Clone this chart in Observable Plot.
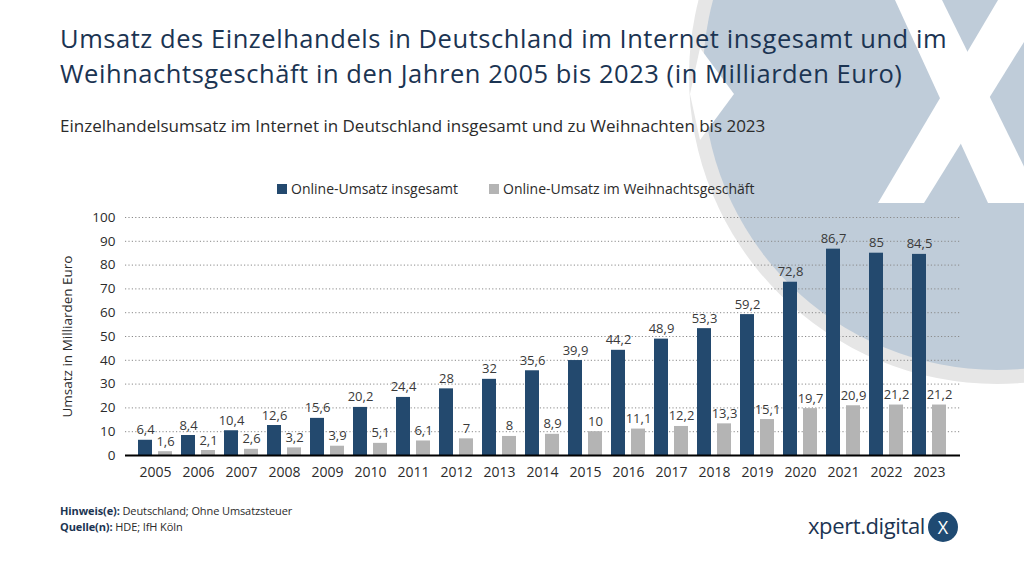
<!DOCTYPE html>
<html>
<head>
<meta charset="utf-8">
<script src="https://cdn.jsdelivr.net/npm/d3@7"></script>
<script src="https://cdn.jsdelivr.net/npm/@observablehq/plot@0.6"></script>
<style>
  html, body { margin: 0; padding: 0; background: #fff; }
  body { width: 1024px; height: 576px; position: relative; overflow: hidden; font-family: "Open Sans", "Noto Sans", sans-serif; }
  #bg { position: absolute; left: 0; top: 0; }
  .abs { position: absolute; white-space: nowrap; }
  .title { left: 60px; font-size: 25.5px; line-height: 35px; height: 35px; letter-spacing: 0.55px; color: #1b3452; }
  #subtitle { left: 60px; top: 114px; font-size: 17px; color: #2b2b2b; }
  .leg { top: 179px; font-size: 14px; color: #2b2b2b; }
  .sw { position: absolute; width: 10px; height: 10px; top: 184px; }
  #chart { position: absolute; left: 0; top: 195px; }
  .foot { left: 60px; font-size: 11px; line-height: 16px; height: 16px; color: #2b2b2b; letter-spacing: -0.1px; }
  .foot b { color: #1b3452; }
  #logo { left: 808px; top: 510px; font-size: 22px; color: #1b3452; letter-spacing: -0.4px; }
</style>
</head>
<body>
<svg id="bg" width="1024" height="576">
  <circle cx="997" cy="76" r="308" fill="#e6e6e6"/>
  <circle cx="997" cy="76" r="294" fill="#bfccd9"/>
  <polygon points="700,48 734,94 700,140 690,94" fill="#ffffff"/>
  <polygon points="895,0 942,0 1042,203 988,203" fill="#ffffff"/>
  <polygon points="998,0 1050,0 924,203 878,203" fill="#ffffff"/>
  <circle cx="943" cy="527" r="15" fill="#1f4a72"/>
  <text x="943" y="534" text-anchor="middle" font-family="Open Sans" font-size="18" fill="#fff">X</text>
</svg>
<div class="abs title" style="top:21px">Umsatz des Einzelhandels in Deutschland im Internet insgesamt und im</div>
<div class="abs title" style="top:56px">Weihnachtsgeschäft in den Jahren 2005 bis 2023 (in Milliarden Euro)</div>
<div id="subtitle" class="abs">Einzelhandelsumsatz im Internet in Deutschland insgesamt und zu Weihnachten bis 2023</div>
<div class="sw" style="left:277px;background:#23496e"></div>
<div class="abs leg" style="left:291px">Online-Umsatz insgesamt</div>
<div class="sw" style="left:489px;background:#b4b4b4"></div>
<div class="abs leg" style="left:503px">Online-Umsatz im Weihnachtsgeschäft</div>
<div id="chart"></div>
<div class="abs foot" style="top:503px"><b>Hinweis(e):</b> Deutschland; Ohne Umsatzsteuer</div>
<div class="abs foot" style="top:519px"><b>Quelle(n):</b> HDE; IfH Köln</div>
<div id="logo" class="abs">xpert.digital</div>
<script>
const years = [2005,2006,2007,2008,2009,2010,2011,2012,2013,2014,2015,2016,2017,2018,2019,2020,2021,2022,2023];
const totalSales = [6.4,8.4,10.4,12.6,15.6,20.2,24.4,28,32,35.6,39.9,44.2,48.9,53.3,59.2,72.8,86.7,85,84.5];
const christmasSales = [1.6,2.1,2.6,3.2,3.9,5.1,6.1,7,8,8.9,10,11.1,12.2,13.3,15.1,19.7,20.9,21.2,21.2];
const yTicks = [0,10,20,30,40,50,60,70,80,90,100];
const seriesNames = ["Online-Umsatz insgesamt", "Online-Umsatz im Weihnachtsgeschäft"];
const seriesColors = ["#23496e", "#b4b4b4"];

const totalData = years.map((y, i) => ({year: y, value: totalSales[i]}));
const xmasData = years.map((y, i) => ({year: y, value: christmasSales[i]}));
const fmt = v => String(v).replace(".", ",");

const chart = Plot.plot({
  width: 1024,
  height: 295,
  marginLeft: 125,
  marginRight: 64,
  marginTop: 22,
  marginBottom: 35,
  style: {fontFamily: "Open Sans, Noto Sans, sans-serif", background: "transparent", overflow: "visible"},
  x: {type: "band", domain: years, paddingInner: 0.2, paddingOuter: 0.1, label: null},
  y: {domain: [0, 100], label: null},
  marks: [
    Plot.gridY(yTicks.filter(d => d > 0), {stroke: "#8a8a8a", strokeOpacity: 1, strokeDasharray: "1.2,2.2"}),
    Plot.barY(totalData, {x: "year", y: "value", fill: seriesColors[0], insetRight: 20}),
    Plot.barY(xmasData, {x: "year", y: "value", fill: seriesColors[1], insetLeft: 20}),
    Plot.text(totalData, {x: "year", y: "value", text: d => fmt(d.value), dx: -10, dy: -6, lineAnchor: "bottom", fill: "#3a3a3a", fontSize: 13}),
    Plot.text(xmasData, {x: "year", y: "value", text: d => fmt(d.value), dx: 10, dy: -6, lineAnchor: "bottom", fill: "#3a3a3a", fontSize: 13}),
    Plot.ruleY([0], {stroke: "#000", strokeWidth: 2}),
    Plot.axisY({ticks: yTicks, tickSize: 0, tickPadding: 10, fontSize: 13.5, fill: "#2b2b2b", label: null}),
    Plot.axisX({tickSize: 0, tickPadding: 12, fontSize: 14, fill: "#2b2b2b", label: null, tickFormat: d => String(d)}),
    Plot.text(["Umsatz in Milliarden Euro"], {frameAnchor: "left", textAnchor: "middle", dx: -58, rotate: -90, fontSize: 13.5, fill: "#2b2b2b", text: d => d})
  ]
});
document.getElementById("chart").appendChild(chart);
</script>
</body>
</html>
